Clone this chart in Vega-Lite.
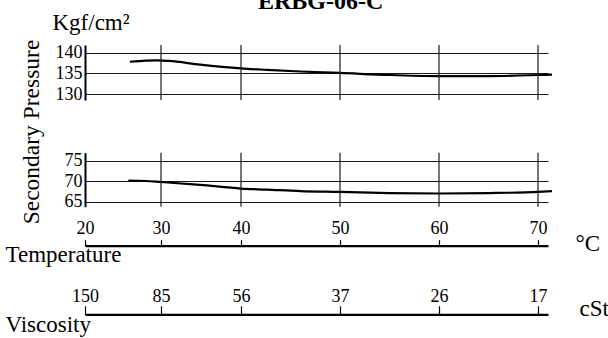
{
  "$schema": "https://vega.github.io/schema/vega-lite/v6.json",
  "autosize": "none",
  "width": 463,
  "height": 161.7,
  "padding": {"left": 85, "top": 45, "right": 60, "bottom": 131.3},
  "background": "white",
  "title": {"text": "ERBG-06-C", "anchor": "start", "frame": "group", "dx": 173, "dy": 7, "font": "Liberation Serif", "fontSize": 24, "fontWeight": "bold", "color": "black"},
  "datasets": {
    "upper": [
      {"t": 25.9, "p": 137.8}, {"t": 28, "p": 138.1}, {"t": 29.5, "p": 138.15}, {"t": 31, "p": 138.0},
      {"t": 34.9, "p": 137.1}, {"t": 40, "p": 136.2}, {"t": 42.6, "p": 135.85}, {"t": 46, "p": 135.45},
      {"t": 50, "p": 135.1}, {"t": 55, "p": 134.6}, {"t": 60, "p": 134.35}, {"t": 65, "p": 134.35},
      {"t": 70, "p": 134.6}, {"t": 71.4, "p": 134.7}
    ],
    "lower": [
      {"t": 25.7, "p": 70.15}, {"t": 28, "p": 70.05}, {"t": 30, "p": 69.8}, {"t": 34.9, "p": 69.1},
      {"t": 40, "p": 68.2}, {"t": 42.6, "p": 67.95}, {"t": 46, "p": 67.6}, {"t": 50, "p": 67.4},
      {"t": 55, "p": 67.1}, {"t": 60, "p": 67.0}, {"t": 65, "p": 67.1}, {"t": 70, "p": 67.4},
      {"t": 71.4, "p": 67.6}
    ],
    "grid": [{"t": 30}, {"t": 40}, {"t": 50}, {"t": 60}, {"t": 70}]
  },
  "config": {
    "view": {"stroke": null},
    "font": "Liberation Serif",
    "axis": {
      "domainColor": "black", "domainWidth": 2,
      "gridColor": "#1a1a1a", "gridWidth": 1.2, "gridOpacity": 1,
      "tickColor": "black", "tickWidth": 1.2,
      "labelColor": "black", "labelFont": "Liberation Serif", "labelFontSize": 18, "labelOverlap": false, "labelFlush": false,
      "titleColor": "black", "titleFont": "Liberation Serif", "titleFontSize": 23, "titleFontWeight": "normal"
    }
  },
  "resolve": {"scale": {"y": "independent"}, "axis": {"x": "independent", "y": "independent"}},
  "layer": [
    {
      "data": {"name": "upper"},
      "mark": {"type": "line", "color": "black", "strokeWidth": 2.2, "interpolate": "monotone"},
      "encoding": {
        "x": {"field": "t", "type": "quantitative",
          "scale": {"domain": [20, 30, 40, 50, 60, 70, 71], "range": [0, 76, 156, 255, 354, 453, 463], "zero": false, "nice": false},
          "axis": {"orient": "top", "offset": -200.7, "values": [20, 30, 40, 50, 60, 70], "grid": false, "domainWidth": 2.2,
            "tickSize": 6, "labelPadding": 2, "labelFont": "Liberation Serif", "labelFontSize": 18, "labelColor": "black",
            "title": "Temperature", "titleFont": "Liberation Serif", "titleFontSize": 23, "titleX": -80, "titleY": 15.3, "titleAlign": "left", "titleBaseline": "alphabetic", "titleAngle": 0}},
        "y": {"field": "p", "type": "quantitative",
          "scale": {"domain": [128.55, 141.86], "range": [55, 0], "nice": false, "zero": false},
          "axis": {"orient": "left", "values": [130, 135, 140], "grid": true, "ticks": false, "labelPadding": 3, "labelFont": "Liberation Serif", "labelFontSize": 18, "labelColor": "black",
            "title": "Kgf/cm²", "titleFont": "Liberation Serif", "titleFontSize": 23, "titleAngle": 0, "titleAlign": "left", "titleBaseline": "alphabetic", "titleX": -33, "titleY": -15.7}}
      }
    },
    {
      "data": {"name": "lower"},
      "mark": {"type": "line", "color": "black", "strokeWidth": 2.2, "interpolate": "monotone"},
      "encoding": {
        "x": {"field": "t", "type": "quantitative",
          "scale": {"domain": [20, 30, 40, 50, 60, 70, 71], "range": [0, 76, 156, 255, 354, 453, 463], "zero": false, "nice": false},
          "axis": {"orient": "top", "offset": -269.3, "values": [20, 30, 40, 50, 60, 70], "grid": false, "domainWidth": 2.2,
            "tickSize": 8.5, "labelPadding": 0, "labelFont": "Liberation Serif", "labelFontSize": 18, "labelColor": "black",
            "labelExpr": "datum.value == 20 ? '150' : datum.value == 30 ? '85' : datum.value == 40 ? '56' : datum.value == 50 ? '37' : datum.value == 60 ? '26' : '17'",
            "title": "Viscosity", "titleFont": "Liberation Serif", "titleFontSize": 23, "titleX": -80, "titleY": 17.4, "titleAlign": "left", "titleBaseline": "alphabetic", "titleAngle": 0}},
        "y": {"field": "p", "type": "quantitative",
          "scale": {"domain": [63.78, 76.95], "range": [161.7, 107.7], "nice": false, "zero": false},
          "axis": {"orient": "left", "values": [65, 70, 75], "grid": true, "ticks": false, "labelPadding": 3, "labelFont": "Liberation Serif", "labelFontSize": 18, "labelColor": "black",
            "title": "Secondary Pressure", "titleFont": "Liberation Serif", "titleFontSize": 23.5, "titleAngle": -90, "titleAlign": "center", "titleBaseline": "alphabetic", "titleX": -46.5, "titleY": 86.5}}
      }
    },
    {
      "data": {"name": "grid"},
      "mark": {"type": "rule", "color": "#1a1a1a", "strokeWidth": 1.2},
      "encoding": {
        "x": {"field": "t", "type": "quantitative",
          "scale": {"domain": [20, 30, 40, 50, 60, 70, 71], "range": [0, 76, 156, 255, 354, 453, 463], "zero": false, "nice": false},
          "axis": {"orient": "top", "offset": -200.7, "grid": false, "domain": false, "ticks": false, "labels": false,
            "title": "°C", "titleFont": "Liberation Serif", "titleFontSize": 23, "titleX": 490, "titleY": 4.3, "titleAlign": "left", "titleBaseline": "alphabetic", "titleAngle": 0}},
        "y": {"datum": 128.55, "type": "quantitative", "scale": {"domain": [128.55, 141.86], "range": [55, 0], "nice": false, "zero": false}, "axis": null},
        "y2": {"datum": 141.86}
      }
    },
    {
      "data": {"name": "grid"},
      "mark": {"type": "rule", "color": "#1a1a1a", "strokeWidth": 1.2},
      "encoding": {
        "x": {"field": "t", "type": "quantitative",
          "scale": {"domain": [20, 30, 40, 50, 60, 70, 71], "range": [0, 76, 156, 255, 354, 453, 463], "zero": false, "nice": false},
          "axis": {"orient": "top", "offset": -269.3, "grid": false, "domain": false, "ticks": false, "labels": false,
            "title": "cSt", "titleFont": "Liberation Serif", "titleFontSize": 23, "titleX": 494, "titleY": 0.7, "titleAlign": "left", "titleBaseline": "alphabetic", "titleAngle": 0}},
        "y": {"datum": 63.78, "type": "quantitative", "scale": {"domain": [63.78, 76.95], "range": [161.7, 107.7], "nice": false, "zero": false}, "axis": null},
        "y2": {"datum": 76.95}
      }
    }
  ]
}
